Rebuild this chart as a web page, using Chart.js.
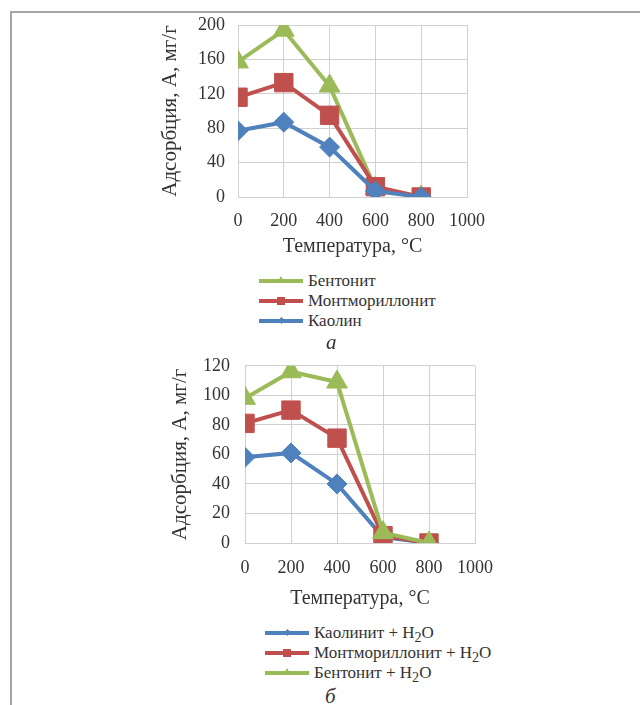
<!DOCTYPE html>
<html><head><meta charset="utf-8">
<script src="https://cdn.jsdelivr.net/npm/chart.js@4/dist/chart.umd.min.js"></script>
<style>
html,body{margin:0;padding:0;background:#fff;}
body{width:640px;height:705px;position:relative;overflow:hidden;font-family:"Liberation Serif",serif;color:#333;}
#frameTop{position:absolute;left:10px;top:11px;width:630px;height:2px;background:#a6a6a6;}
#frameLeft{position:absolute;left:10px;top:11px;width:2px;height:694px;background:#a6a6a6;}
.cv{position:absolute;left:0;width:640px;}
#w1{top:0;height:262px;}
#w2{top:340px;height:275px;}
.legend{position:absolute;font-size:17px;line-height:20px;}
.row{position:relative;height:20px;white-space:nowrap;}
.ln{position:absolute;top:8px;height:4px;width:44px;left:0;}
.mk{position:absolute;}
.mk.rect{left:18px;top:6px;width:8px;height:8px;}
.mk.rectRot{left:20px;top:7px;width:5px;height:5px;transform:rotate(45deg);}
.mk.triangle{left:18px;top:5px;width:0;height:0;border-left:4px solid transparent;border-right:4px solid transparent;border-bottom-width:7px;border-bottom-style:solid;}
.tx{position:absolute;left:49px;top:0;}
.cap{position:absolute;font-style:italic;font-size:21px;}
</style></head><body>
<div id="frameTop"></div><div id="frameLeft"></div>
<div class="cv" id="w1"><canvas id="c1"></canvas></div>
<div class="cv" id="w2"><canvas id="c2"></canvas></div>
<div class="legend" id="lg1" style="left:259px;top:271px;"></div>
<div class="cap" style="left:326px;top:330px;">а</div>
<div class="legend" id="lg2" style="left:265px;top:623px;"></div>
<div class="cap" style="left:325px;top:684px;">б</div>
<script>
// ---- data ----
const temps = [0, 200, 400, 600, 800];
const xTicks = [0, 200, 400, 600, 800, 1000];

const namesA = ['Бентонит', 'Монтмориллонит', 'Каолин'];
const bentoniteA = [157, 194, 129, 10, 0];
const montmorA = [116, 133, 95, 12, 0];
const kaolinA = [77, 87, 58, 7, 0];

const namesB = ['Каолинит + H₂O', 'Монтмориллонит + H₂O', 'Бентонит + H₂O'];
const namesBHtml = ['Каолинит + H<sub>2</sub>O', 'Монтмориллонит + H<sub>2</sub>O', 'Бентонит + H<sub>2</sub>O'];
const kaolinB = [58, 61, 40, 4, 0];
const montmorB = [81, 90, 71, 5, 0];
const bentoniteB = [98, 116, 109, 7, 0];

const xTitle = 'Температура, °C';
const yTitle = 'Адсорбция, А, мг/г';

// ---- styles ----
const BLUE = '#4f81bd', RED = '#c0504d', GREEN = '#9bbb59';
const GRID = '#d0d0d0';
const FONT = '"Liberation Serif", serif';
const TXT = '#333';

function ds(label, data, color, style, radius, order) {
  return {
    label, data: temps.map((t, i) => ({x: t, y: data[i]})),
    borderColor: color, backgroundColor: color, borderWidth: 4,
    pointStyle: style, pointRadius: radius, pointHoverRadius: radius,
    pointBorderWidth: 1, pointBackgroundColor: color, pointBorderColor: color,
    tension: 0, order
  };
}

function makeChart(id, datasets, cfg) {
  return new Chart(document.getElementById(id), {
    type: 'line',
    data: {datasets},
    options: {
      responsive: true, maintainAspectRatio: false, animation: false,
      events: [],
      layout: {padding: cfg.pad},
      plugins: {legend: {display: false}, tooltip: {enabled: false}},
      scales: {
        x: {
          type: 'linear', min: 0, max: 1000,
          afterBuildTicks: s => { s.ticks = xTicks.map(v => ({value: v})); },
          afterFit: s => { s.height = cfg.xh; },
          grid: {color: GRID, lineWidth: 1, drawTicks: false},
          border: {color: GRID, width: 1},
          ticks: {color: TXT, font: {family: FONT, size: 18}, padding: cfg.xpad, maxRotation: 0, autoSkip: false,
                  callback: v => String(v)},
          title: {display: true, text: xTitle, color: TXT, font: {family: FONT, size: 20}, padding: 0}
        },
        y: {
          type: 'linear', min: 0, max: cfg.ymax,
          afterBuildTicks: s => { s.ticks = cfg.yTicks.map(v => ({value: v})); },
          afterFit: s => { s.width = cfg.yw; },
          grid: {color: GRID, lineWidth: 1, drawTicks: false},
          border: {color: GRID, width: 1},
          ticks: {color: TXT, font: {family: FONT, size: 18}, padding: cfg.ypad, autoSkip: false,
                  callback: v => String(v)},
          title: {display: true, text: yTitle, color: TXT, font: {family: FONT, size: 21}, padding: 0}
        }
      }
    }
  });
}

const yTicksA = [0, 40, 80, 120, 160, 200];
const yTicksB = [0, 20, 40, 60, 80, 100, 120];

makeChart('c1', [
  ds(namesA[0], bentoniteA, GREEN, 'triangle', 12, 2),
  ds(namesA[1], montmorA, RED, 'rect', 13, 1),
  ds(namesA[2], kaolinA, BLUE, 'rectRot', 10, 0)
], {pad: {left: 157.4, right: 173, top: 25, bottom: 3}, xh: 62, yw: 80.6, xpad: 13, ypad: 13, ymax: 200, yTicks: yTicksA});

makeChart('c2', [
  ds(namesB[0], kaolinB, BLUE, 'rectRot', 10, 2),
  ds(namesB[1], montmorB, RED, 'rect', 13, 1),
  ds(namesB[2], bentoniteB, GREEN, 'triangle', 12, 0)
], {pad: {left: 167.4, right: 165, top: 24, bottom: 4}, xh: 68, yw: 77.6, xpad: 14, ypad: 15, ymax: 120, yTicks: yTicksB});

function legend(id, names, colors, styles) {
  const el = document.getElementById(id);
  el.innerHTML = names.map((n, i) => {
    const mkStyle = styles[i] === 'triangle' ? `border-bottom-color:${colors[i]}` : `background:${colors[i]}`;
    return `<div class="row"><div class="ln" style="background:${colors[i]}"></div>` +
      `<div class="mk ${styles[i]}" style="${mkStyle}"></div><div class="tx">${n}</div></div>`;
  }).join('');
}
legend('lg1', namesA, [GREEN, RED, BLUE], ['triangle', 'rect', 'rectRot']);
legend('lg2', namesBHtml, [BLUE, RED, GREEN], ['rectRot', 'rect', 'triangle']);
</script>
</body></html>
